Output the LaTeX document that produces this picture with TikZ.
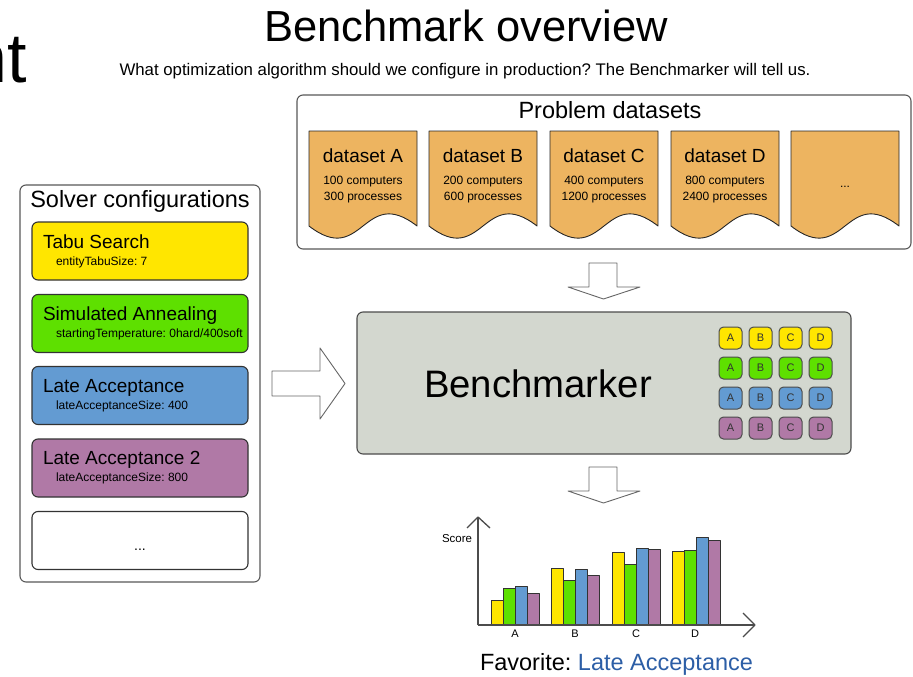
\documentclass[tikz,border=0pt]{standalone}
\usepackage{fontspec}
\setmainfont{Liberation Sans}
\frenchspacing
\definecolor{tan}{RGB}{237,180,96}
\definecolor{cyellow}{RGB}{255,230,0}
\definecolor{cgreen}{RGB}{94,224,0}
\definecolor{cblue}{RGB}{99,155,210}
\definecolor{cpurple}{RGB}{176,121,166}
\definecolor{benchgray}{RGB}{211,215,207}
\definecolor{favblue}{RGB}{44,94,166}
\begin{document}
\begin{tikzpicture}[x=1pt,y=-1pt,line join=round,
  txt/.style={inner sep=0pt,outer sep=0pt},
  outerbox/.style={draw=black!65,line width=1.1pt,rounded corners=6pt,inner sep=0pt},
  cfgbox/.style={draw=black!80,line width=1.1pt,rounded corners=6pt,minimum width=216pt,minimum height=58pt,inner sep=0pt},
  cfgtitle/.style={txt,anchor=base west,font=\fontsize{19}{22}\selectfont},
  cfgsub/.style={txt,anchor=base west,font=\fontsize{12}{14}\selectfont},
  docshape/.style={draw=black!85,line width=0.9pt,fill=tan},
  chip/.style={draw=black!70,line width=1pt,rounded corners=4.5pt,minimum width=23pt,minimum height=22pt,inner sep=0pt,font=\fontsize{11}{12}\selectfont},
  bar/.style={draw=black!80,line width=0.9pt},
  axisline/.style={draw=black!70,line width=1.3pt},
  blockarrow/.style={draw=black!60,line width=0.9pt,fill=white},
]
\clip (0,0) rectangle (913,677);
\fill[white] (0,0) rectangle (913,677);

% titles
\node[txt,anchor=base east] (cut) at (26.5,82) {\fontsize{70}{80}\selectfont nt};
\node[txt,anchor=base] (title) at (466,42) {\fontsize{43.5}{50}\selectfont Benchmark overview};
\node[txt,anchor=base] (subtitle) at (465,76) {\fontsize{16.8}{20}\selectfont What optimization algorithm should we configure in production? The Benchmarker will tell us.};

% problem datasets
\node[outerbox,minimum width=614pt,minimum height=154pt] (datasets) at (604,172) {};
\node[txt,anchor=base] (datasetstitle) at (610,118) {\fontsize{23.5}{26}\selectfont Problem datasets};
\foreach \x/\n/\a/\b in {309/A/100/300,429/B/200/600,550/C/400/1200,671/D/800/2400}{
  \draw[docshape] (\x,131) -- (\x+108,131) -- (\x+108,226) .. controls (\x+54,184) and (\x+54,268) .. (\x,226) -- cycle;
  \node[txt,anchor=base] (ds\n) at (\x+54,162) {\fontsize{19}{22}\selectfont dataset \n};
  \node[txt,anchor=base] (ds\n c) at (\x+54,184) {\fontsize{12}{14}\selectfont \a{} computers};
  \node[txt,anchor=base] (ds\n p) at (\x+54,200) {\fontsize{12}{14}\selectfont \b{} processes};
}
\draw[docshape] (791,131) -- (899,131) -- (899,226) .. controls (845,184) and (845,268) .. (791,226) -- cycle;
\node[txt,anchor=base] (dsmore) at (845,187) {\fontsize{12}{14}\selectfont ...};

% solver configurations
\node[outerbox,minimum width=240pt,minimum height=397pt] (solvers) at (140,383.5) {};
\node[txt,anchor=base] (solverstitle) at (140,207) {\fontsize{23.5}{26}\selectfont Solver configurations};
\node[cfgbox,fill=cyellow] (tabu) at (140,251) {};
\node[cfgtitle] (tabut) at (43,248) {Tabu Search};
\node[cfgsub] (tabus) at (56,265) {entityTabuSize: 7};
\node[cfgbox,fill=cgreen] (sa) at (140,323.5) {};
\node[cfgtitle] (sat) at (43,320) {Simulated Annealing};
\node[cfgsub] (sas) at (56,337) {startingTemperature: 0hard/400soft};
\node[cfgbox,fill=cblue] (la) at (140,395.5) {};
\node[cfgtitle] (lat) at (43,392) {Late Acceptance};
\node[cfgsub] (las) at (56,409) {lateAcceptanceSize: 400};
\node[cfgbox,fill=cpurple] (latwo) at (140,468) {};
\node[cfgtitle] (latwot) at (43,464) {Late Acceptance 2};
\node[cfgsub] (latwos) at (56,481) {lateAcceptanceSize: 800};
\node[cfgbox,fill=white] (cfgmore) at (140,540.5) {};
\node[txt,anchor=base] (cfgmoret) at (140,550) {\fontsize{14}{16}\selectfont ...};

% block arrows
\draw[blockarrow] (272,371) -- (320,371) -- (320,348) -- (345,383.5) -- (320,419) -- (320,396) -- (272,396) -- cycle;
\draw[blockarrow] (589,263) -- (617,263) -- (617,287) -- (640,287) -- (603.5,299) -- (568,287) -- (589,287) -- cycle;
\draw[blockarrow] (589,467) -- (617,467) -- (617,491) -- (640,491) -- (603.5,503) -- (568,491) -- (589,491) -- cycle;

% benchmarker
\node[draw=black!70,fill=benchgray,rounded corners=6pt,line width=1.1pt,minimum width=494pt,minimum height=142pt,inner sep=0pt] (bench) at (604,383) {};
\node[txt,anchor=base] (benchtxt) at (538,397) {\fontsize{38.3}{44}\selectfont Benchmarker};
\foreach \c [count=\i] in {cyellow,cgreen,cblue,cpurple}{
  \foreach \l [count=\j] in {A,B,C,D}{
    \node[chip,fill=\c,text=black!80] (chip\i\j) at ({700.5+30*\j},{308+30*\i}) {\l};
  }
}

% chart
\foreach \gx/\ya/\yb/\yc/\yd in {491/600/588/586/593,551/568/580/569/575,612/552/564/548/549,672/551/550/537/540}{
  \draw[bar,fill=cyellow] (\gx,625) rectangle (\gx+12,\ya);
  \draw[bar,fill=cgreen] (\gx+12,625) rectangle (\gx+24,\yb);
  \draw[bar,fill=cblue] (\gx+24,625) rectangle (\gx+36,\yc);
  \draw[bar,fill=cpurple] (\gx+36,625) rectangle (\gx+48,\yd);
}
\coordinate (origin) at (478,625);
\coordinate (ytip) at (478,517);
\coordinate (xtip) at (755,625);
\draw[axisline] (origin) -- (ytip);
\draw[axisline] (467,528) -- (ytip) -- (490,528);
\draw[axisline] (origin) -- (xtip);
\draw[axisline] (743,613) -- (xtip) -- (743,637);
\node[txt,anchor=base west] (score) at (442,542) {\fontsize{11.5}{13}\selectfont Score};
\foreach \l/\lx in {A/515,B/575,C/636,D/695}{
  \node[txt,anchor=base] (lbl\l) at (\lx,637) {\fontsize{11}{13}\selectfont \l};
}
\node[txt,anchor=base west] (fav) at (480,670) {\fontsize{23.5}{26}\selectfont Favorite: \textcolor{favblue}{Late Acceptance}};
\end{tikzpicture}
\end{document}
